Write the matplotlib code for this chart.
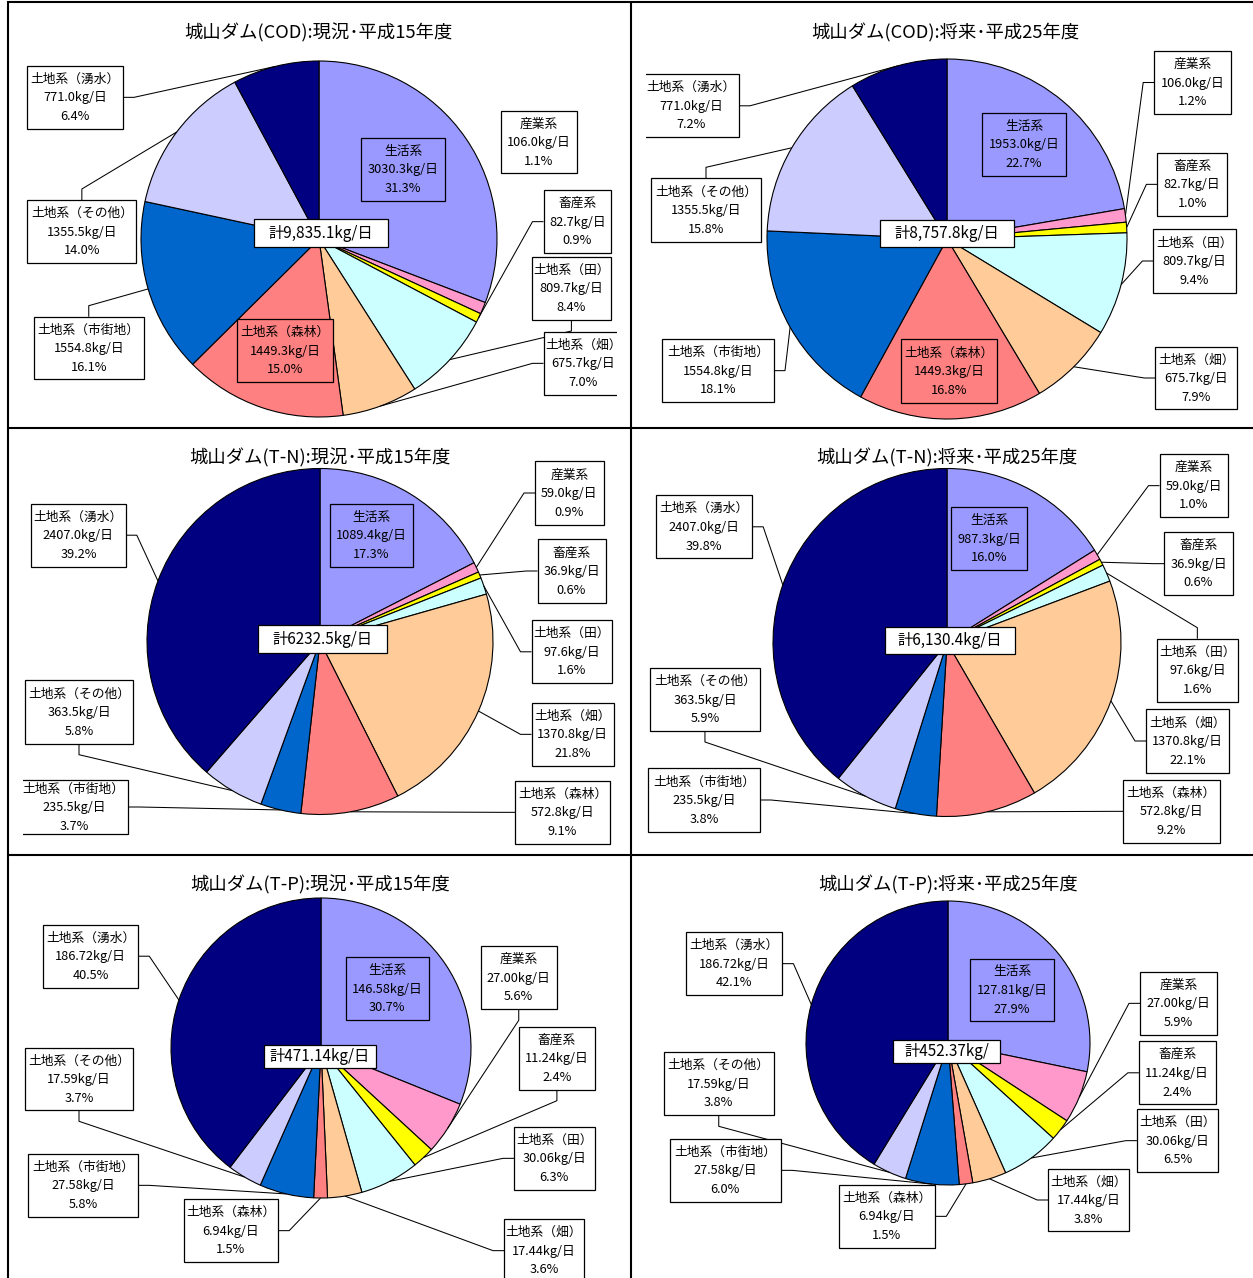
import matplotlib
matplotlib.use('Agg')
import matplotlib.pyplot as plt
from matplotlib.patches import Rectangle
import numpy as np

plt.rcParams['font.family'] = ['Noto Sans CJK JP', 'DejaVu Sans']

# ---------------- data ----------------
categories = ['生活系', '産業系', '畜産系', '土地系（田）', '土地系（畑）',
              '土地系（森林）', '土地系（市街地）', '土地系（その他）', '土地系（湧水）']
slice_colors = ['#9999FF', '#FF99CC', '#FFFF00', '#CCFFFF', '#FFCC99',
                '#FF8080', '#0066CC', '#CCCCFF', '#000080']

titles = ['城山ダム(COD):現況･平成15年度', '城山ダム(COD):将来･平成25年度',
          '城山ダム(T-N):現況･平成15年度', '城山ダム(T-N):将来･平成25年度',
          '城山ダム(T-P):現況･平成15年度', '城山ダム(T-P):将来･平成25年度']

cod_now = [3030.3, 106.0, 82.7, 809.7, 675.7, 1449.3, 1554.8, 1355.5, 771.0]
cod_fut = [1953.0, 106.0, 82.7, 809.7, 675.7, 1449.3, 1554.8, 1355.5, 771.0]
tn_now = [1089.4, 59.0, 36.9, 97.6, 1370.8, 572.8, 235.5, 363.5, 2407.0]
tn_fut = [987.3, 59.0, 36.9, 97.6, 1370.8, 572.8, 235.5, 363.5, 2407.0]
tp_now = [146.58, 27.00, 11.24, 30.06, 17.44, 6.94, 27.58, 17.59, 186.72]
tp_fut = [127.81, 27.00, 11.24, 30.06, 17.44, 6.94, 27.58, 17.59, 186.72]

cod_now_pct = [31.3, 1.1, 0.9, 8.4, 7.0, 15.0, 16.1, 14.0, 6.4]
cod_fut_pct = [22.7, 1.2, 1.0, 9.4, 7.9, 16.8, 18.1, 15.8, 7.2]
tn_now_pct = [17.3, 0.9, 0.6, 1.6, 21.8, 9.1, 3.7, 5.8, 39.2]
tn_fut_pct = [16.0, 1.0, 0.6, 1.6, 22.1, 9.2, 3.8, 5.9, 39.8]
tp_now_pct = [30.7, 5.6, 2.4, 6.3, 3.6, 1.5, 5.8, 3.7, 40.5]
tp_fut_pct = [27.9, 5.9, 2.4, 6.5, 3.8, 1.5, 6.0, 3.8, 42.1]

value_decimals = [1, 1, 1, 1, 2, 2]
total_labels = ['計9,835.1kg/日', '計8,757.8kg/日', '計6232.5kg/日',
                '計6,130.4kg/日', '計471.14kg/日', '計452.37kg/']

series = [cod_now, cod_fut, tn_now, tn_fut, tp_now, tp_fut]
pcts = [cod_now_pct, cod_fut_pct, tn_now_pct, tn_fut_pct, tp_now_pct, tp_fut_pct]

# ---------------- layout (pixels, y down) ----------------
W, H = 1253, 1278
pie_centers = [(319, 239), (947, 239), (320, 641.5), (947, 642.5), (321, 1048), (948, 1043)]
pie_radii = [178, 180, 173, 174, 150, 142]
title_pos = [(318.5, 33), (945.5, 33.3), (320, 457.7), (947, 457.7), (320, 885.3), (947.7, 885.3)]
total_boxes = [(254, 219.3, 388, 246.7), (880, 220, 1014.3, 246.7), (258, 625.3, 387, 652.7),
               (884.9, 627, 1015, 654.3), (264, 1044.7, 375.8, 1068), (893.3, 1039.7, 999.8, 1063)]
clip_regions = [(8, 0, 617, 428), (646, 0, 1253, 428), (23.4, 428, 631, 855),
                None, None, None]

# box rect (x0, y0, x1, y1), leader side ('in' = inside pie, None = no leader)
label_boxes = [
    [(361, 137.7, 445, 201, 'in'), (501, 110.7, 576.6, 173.3, None),
     (543.5, 190, 611.3, 253.3, 'L'), (531.5, 256.7, 611.3, 320, 'B'),
     (543.5, 331.7, 623, 395, 'L'), (237, 319, 332.7, 382.3, 'in'),
     (33.5, 316.7, 144, 379.3, 'T'), (27.4, 200, 136.3, 263.3, 'T'),
     (27.4, 65.7, 123, 129, 'R')],
    [(982, 112.7, 1066.3, 176, 'in'), (1154.2, 50.7, 1230.8, 114.3, 'L'),
     (1157.4, 152.7, 1226.8, 216, 'L'), (1153.4, 229.3, 1235.7, 292.7, 'L'),
     (1155.4, 346.7, 1236.9, 409.3, 'L'), (901, 339.3, 997, 402.7, 'in'),
     (662.3, 339, 774, 402.3, 'R'), (651, 178.3, 761, 241.7, 'T'),
     (643, 74.3, 739, 137.3, 'R')],
    [(329.8, 503.7, 412.5, 567, 'in'), (535, 461, 603.6, 525, 'L'),
     (537.5, 539.3, 605.6, 602.7, 'L'), (531.5, 620.3, 611.7, 683.3, 'L'),
     (531.5, 702.7, 613.7, 766, 'L'), (515.3, 781, 610, 843.7, 'L'),
     (19.4, 780.3, 128.2, 833.7, 'R'), (25, 680.3, 133, 743.7, 'B'),
     (31, 503.7, 125.8, 566.7, 'R')],
    [(951.4, 507, 1027.2, 570.3, 'in'), (1159.5, 454.3, 1228, 517, 'L'),
     (1164.3, 532, 1232.8, 595.3, 'L'), (1157, 638.7, 1237.7, 702, 'T'),
     (1146, 709.3, 1228.8, 772.7, 'L'), (1123, 780, 1219.5, 842.7, 'L'),
     (648, 768.3, 759.9, 831.7, 'R'), (650, 668.3, 759.9, 731, 'B'),
     (656.2, 495.3, 752.2, 558.3, 'R')],
    [(345.6, 957, 428.6, 1020.3, 'in'), (481, 946.3, 556.5, 1009.3, 'B'),
     (519, 1027, 594.8, 1089.7, 'B'), (514, 1127, 594.8, 1189.7, 'L'),
     (504, 1219.3, 583.9, 1282, 'L'), (183.5, 1199.3, 278.2, 1262, 'R'),
     (28.2, 1153.7, 138.3, 1217, 'R'), (25, 1047.7, 133, 1110.3, 'B'),
     (43.1, 924.7, 138.3, 987.7, 'R')],
    [(970, 958.7, 1054.2, 1021.3, 'in'), (1140, 972, 1216.7, 1034.7, 'L'),
     (1138.9, 1041.3, 1215.5, 1104.3, 'L'), (1136.9, 1109.3, 1217.9, 1172, 'L'),
     (1048.2, 1168.7, 1128.8, 1231.3, 'L'), (838.5, 1184.7, 935.3, 1248, 'R'),
     (669.5, 1138.7, 781.2, 1202, 'R'), (663.5, 1052, 774, 1115.3, 'B'),
     (685.7, 932, 782.4, 995.3, 'R')],
]

ELBOW = 11
LABEL_FS = 9.2
TOTAL_FS = 11
TITLE_FS = 13.2
LINE_GAP = 18.7

fig = plt.figure(figsize=(W / 100, H / 100), dpi=100)
ax = fig.add_axes([0, 0, 1, 1])

for k in range(6):
    cx, cy = pie_centers[k]
    r = pie_radii[k]
    wedges, _ = ax.pie(series[k], colors=slice_colors, startangle=-90, counterclock=True,
                       center=(cx, cy), radius=r,
                       wedgeprops=dict(edgecolor='black', linewidth=0.8))
    ax.text(title_pos[k][0], title_pos[k][1], titles[k], ha='center', va='center',
            fontsize=TITLE_FS, color='black')

    clip = None
    if clip_regions[k] is not None:
        x0c, y0c, x1c, y1c = clip_regions[k]
        clip = Rectangle((x0c, y0c), x1c - x0c, y1c - y0c, transform=ax.transData)

    dec = value_decimals[k]
    for i, w in enumerate(wedges):
        x0, y0, x1, y1, side = label_boxes[k][i]
        bx, by = (x0 + x1) / 2, (y0 + y1) / 2
        mid = np.deg2rad((w.theta1 + w.theta2) / 2)
        ax_, ay_ = cx + r * np.cos(mid), cy + r * np.sin(mid)
        if side in ('L', 'R', 'T', 'B'):
            if side == 'L':
                p0, p1 = (x0, by), (x0 - ELBOW, by)
            elif side == 'R':
                p0, p1 = (x1, by), (x1 + ELBOW, by)
            elif side == 'T':
                p0, p1 = (bx, y0), (bx, y0 - ELBOW)
            else:
                p0, p1 = (bx, y1), (bx, y1 + ELBOW)
            ax.plot([p0[0], p1[0], ax_], [p0[1], p1[1], ay_], color='black',
                    linewidth=0.75, zorder=3, solid_capstyle='butt')
        fc = slice_colors[i] if side == 'in' else 'white'
        rect = Rectangle((x0, y0), x1 - x0, y1 - y0, facecolor=fc, edgecolor='black',
                         linewidth=0.9, zorder=4)
        ax.add_patch(rect)
        if clip is not None:
            rect.set_clip_path(clip)
        lines = [categories[i], f'{series[k][i]:.{dec}f}kg/日', f'{pcts[k][i]:.1f}%']
        for j, s in enumerate(lines):
            t = ax.text(bx, by + (j - 1) * LINE_GAP + 0.5, s, ha='center', va='center',
                        fontsize=LABEL_FS, color='black', zorder=5)
            if clip is not None:
                t.set_clip_path(clip)

    tx0, ty0, tx1, ty1 = total_boxes[k]
    ax.add_patch(Rectangle((tx0, ty0), tx1 - tx0, ty1 - ty0, facecolor='white',
                           edgecolor='black', linewidth=0.9, zorder=6))
    ax.text((tx0 + tx1) / 2, (ty0 + ty1) / 2, total_labels[k], ha='center', va='center',
            fontsize=TOTAL_FS, color='black', zorder=7)

# panel borders
bl = 1.5
ax.plot([7, W], [2, 2], color='black', lw=bl, solid_capstyle='butt')
ax.plot([7.5, 7.5], [1, H], color='black', lw=bl, solid_capstyle='butt')
ax.plot([631, 631], [1, H], color='black', lw=bl, solid_capstyle='butt')
ax.plot([7.5, W], [427.7, 427.7], color='black', lw=bl, solid_capstyle='butt')
ax.plot([7.5, W], [854.7, 854.7], color='black', lw=bl, solid_capstyle='butt')

ax.set_xlim(0, W)
ax.set_ylim(H, 0)
ax.set_aspect('auto')
ax.axis('off')

fig.savefig('out.png', dpi=100, facecolor='white')
